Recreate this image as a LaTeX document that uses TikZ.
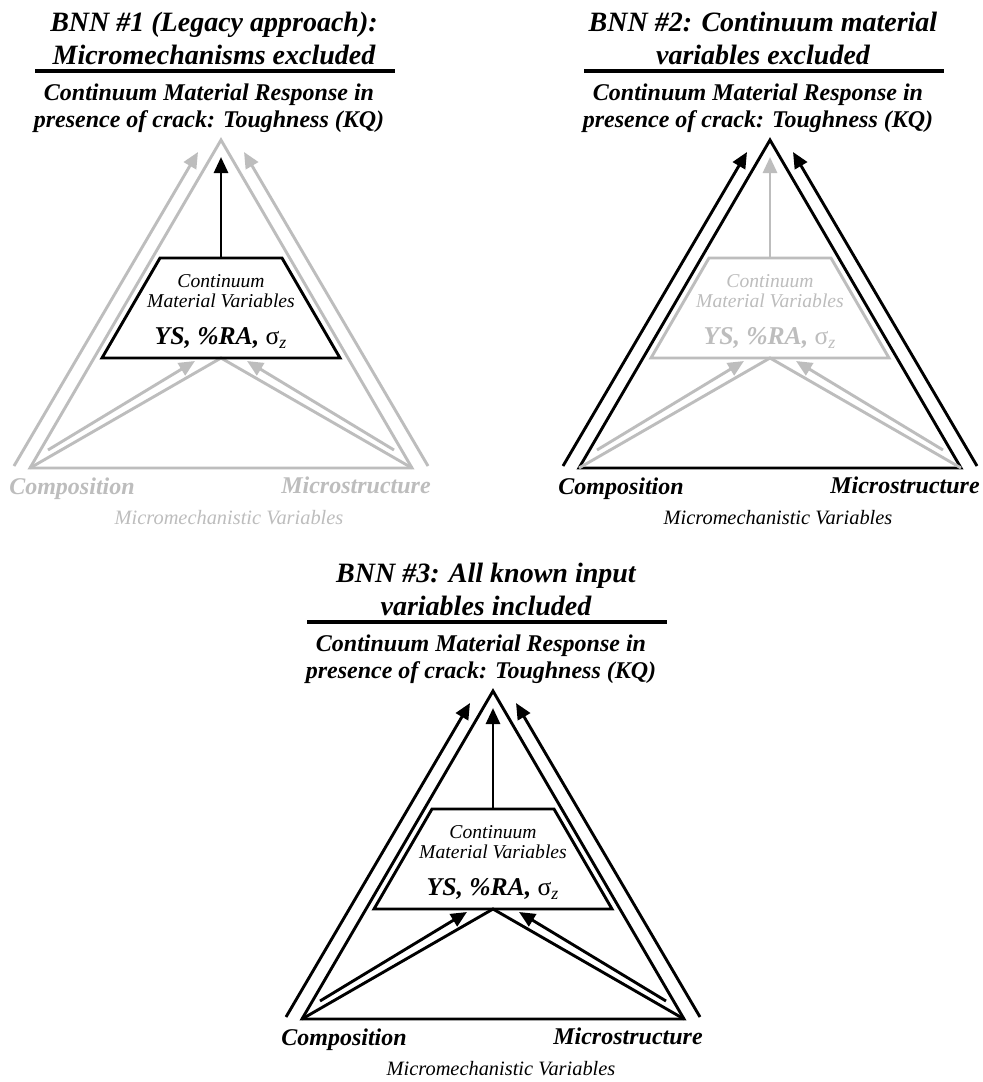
\documentclass[tikz,border=0pt]{standalone}
\usepackage{fontspec}
\setmainfont{Liberation Serif}
\usetikzlibrary{arrows.meta}
\definecolor{faded}{gray}{0.74}
\tikzset{
  ln/.style={line width=1.45pt},
  arr/.style={line width=1.45pt, -{Triangle[length=8pt,width=7pt]}},
  ttl/.style={font=\fontsize{14}{16.5}\selectfont\bfseries\itshape, align=center, inner sep=0pt},
  resp/.style={font=\fontsize{12}{13.5}\selectfont\bfseries\itshape, align=center, inner sep=0pt},
  trapt/.style={font=\fontsize{9.8}{10}\selectfont\itshape, align=center, inner sep=0pt},
  vars/.style={font=\fontsize{12.8}{14}\selectfont\bfseries\itshape, inner sep=0pt},
  corner/.style={font=\fontsize{12}{14}\selectfont\bfseries\itshape, inner sep=0pt, anchor=base},
  micro/.style={font=\fontsize{10.2}{12}\selectfont\itshape, inner sep=0pt},
}
% #1 prefix, #2 shift, #3 title, #4 outer colour, #5 trapezoid colour, #6 inner colour, #7 label colour
\newcommand\drawpanel[7]{%
\begin{scope}[shift={(#2)}]
  \node[ttl] (#1title) at (214,38.5) {#3};
  \coordinate (#1ulL) at (35,71);
  \coordinate (#1ulR) at (395,71);
  \draw[line width=1.8pt] (#1ulL) -- (#1ulR);
  \node[resp] (#1resp) at (209,108.5) {Continuum Material Response in\\presence of crack: Toughness (KQ)};
  % triangle
  \coordinate (#1apex) at (221,140);
  \coordinate (#1bl) at (30,468);
  \coordinate (#1br) at (412,468);
  \draw[ln,color=#4] (#1apex) -- (#1bl) -- (#1br) -- cycle;
  % outer arrows
  \coordinate (#1olS) at (14,466);
  \coordinate (#1olE) at (198,152);
  \coordinate (#1orS) at (428,466);
  \coordinate (#1orE) at (244,152);
  \draw[arr,color=#4] (#1olS) -- (#1olE);
  \draw[arr,color=#4] (#1orS) -- (#1orE);
  % trapezoid coordinates
  \coordinate (#1tl) at (160,258);
  \coordinate (#1tr) at (282,258);
  \coordinate (#1tbr) at (340,358);
  \coordinate (#1tbl) at (102,358);
  \coordinate (#1tt) at (221,258);
  \coordinate (#1tb) at (221,358);
  \coordinate (#1vtip) at (221,157);
  % inner lines and arrows
  \draw[ln,color=#6] (#1bl) -- (#1tb) -- (#1br);
  \coordinate (#1ilS) at (48,450);
  \coordinate (#1ilE) at (195,361);
  \coordinate (#1irS) at (394,450);
  \coordinate (#1irE) at (247,361);
  \draw[arr,color=#6] (#1ilS) -- (#1ilE);
  \draw[arr,color=#6] (#1irS) -- (#1irE);
  % trapezoid
  \draw[ln,color=#5] (#1tl) -- (#1tr) -- (#1tbr) -- (#1tbl) -- cycle;
  \draw[arr,color=#5] (#1tt) -- (#1vtip);
  \node[trapt,text=#5] (#1cmv) at (221,291) {Continuum\\Material Variables};
  \node[vars,text=#5] (#1ys) at (221,338) {YS, \%RA, {\mdseries\upshape σ\textsubscript{\itshape z}}};
  % labels
  \node[corner,text=#7] (#1comp) at (72,494) {Composition};
  \node[corner,text=#7] (#1mic) at (356,493) {Microstructure};
  \node[micro,text=#7] (#1mmv) at (229,518) {Micromechanistic Variables};
\end{scope}}

\begin{document}
\begin{tikzpicture}[x=0.5pt,y=-0.5pt]
  \fill[white] (0,0) rectangle (983,1082);
  \useasboundingbox (0,0) rectangle (983,1082);
  \drawpanel{a}{0,0}{BNN \#1 (Legacy approach):\\Micromechanisms excluded}{faded}{black}{faded}{faded}
  \drawpanel{b}{549,0}{BNN \#2: Continuum material\\variables excluded}{black}{faded}{faded}{black}
  \drawpanel{c}{272,551}{BNN \#3: All known input\\variables included}{black}{black}{black}{black}
\end{tikzpicture}
\end{document}
